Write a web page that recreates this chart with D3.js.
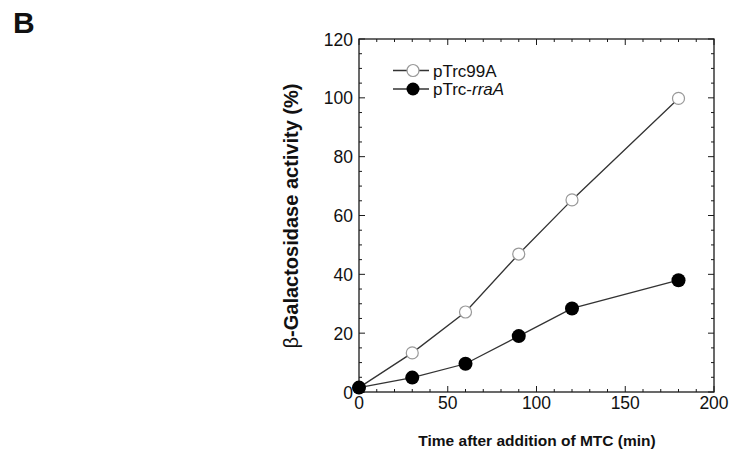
<!DOCTYPE html>
<html><head><meta charset="utf-8">
<script src="https://cdn.jsdelivr.net/npm/d3@7"></script>
<style>body{margin:0;background:#fff;} text{font-family:Arial,"Liberation Sans",Helvetica,sans-serif;}</style>
</head><body>
<svg id="c" width="729" height="454"></svg>
<script>
const times = [0, 30, 60, 90, 120, 180];
const pTrc99A = [1.5, 13.3, 27.2, 46.9, 65.3, 99.8];
const pTrcRraA = [1.5, 4.9, 9.6, 19.0, 28.4, 38.0];
const xTicks = [0, 50, 100, 150, 200];
const yTicks = [0, 20, 40, 60, 80, 100, 120];
const seriesNames = ["pTrc99A", "pTrc-rraA"];

const svg = d3.select("#c");
const L = 359, R = 714, T = 39, B = 392;
const x = d3.scaleLinear().domain([0, 200]).range([L, R]);
const y = d3.scaleLinear().domain([0, 120]).range([B, T]);
const axisColor = "#1a1a1a";

// frame
svg.append("rect").attr("x", L).attr("y", T).attr("width", R - L).attr("height", B - T)
  .attr("fill", "none").attr("stroke", axisColor).attr("stroke-width", 1.3);

const xMinor = d3.range(0, 201, 10);
const yMinor = d3.range(0, 121, 5);
const g = svg.append("g").attr("stroke", axisColor).attr("stroke-width", 1);
xMinor.forEach(v => {
  const len = v % 50 === 0 ? 6 : 3;
  g.append("line").attr("x1", x(v)).attr("x2", x(v)).attr("y1", B).attr("y2", B - len);
  g.append("line").attr("x1", x(v)).attr("x2", x(v)).attr("y1", T).attr("y2", T + len);
});
yMinor.forEach(v => {
  const len = v % 20 === 0 ? 6 : 3;
  g.append("line").attr("y1", y(v)).attr("y2", y(v)).attr("x1", L).attr("x2", L + len);
  g.append("line").attr("y1", y(v)).attr("y2", y(v)).attr("x1", R).attr("x2", R - len);
});

// tick labels
svg.selectAll(".xl").data(xTicks).enter().append("text")
  .attr("x", d => x(d)).attr("y", B + 17).attr("text-anchor", "middle")
  .attr("font-size", 17.5).attr("fill", "#111").text(d => d);
svg.selectAll(".yl").data(yTicks).enter().append("text")
  .attr("x", L - 6).attr("y", d => y(d) + 6.5).attr("text-anchor", "end")
  .attr("font-size", 17.5).attr("fill", "#111").text(d => d);

// axis titles
svg.append("text").attr("x", 537).attr("y", 446).attr("text-anchor", "middle")
  .attr("font-size", 15.5).attr("font-weight", "bold").attr("fill", "#111")
  .text("Time after addition of MTC (min)");
const yt = svg.append("text").attr("transform", "translate(298,216) rotate(-90)")
  .attr("text-anchor", "middle").attr("font-size", 20).attr("fill", "#111");
yt.append("tspan").attr("font-weight", "normal").text("β");
yt.append("tspan").attr("font-weight", "bold").text("-Galactosidase activity (%)");

// panel label
svg.append("text").attr("x", 13).attr("y", 33).attr("font-size", 30).attr("font-weight", "bold")
  .attr("fill", "#111").text("B");

// lines
const line = d3.line().x((d, i) => x(times[i])).y(d => y(d));
svg.append("path").datum(pTrc99A).attr("d", line).attr("fill", "none").attr("stroke", "#333").attr("stroke-width", 1.3);
svg.append("path").datum(pTrcRraA).attr("d", line).attr("fill", "none").attr("stroke", "#333").attr("stroke-width", 1.3);

svg.selectAll(".o").data(pTrc99A).enter().append("circle")
  .attr("cx", (d, i) => x(times[i])).attr("cy", d => y(d)).attr("r", 6)
  .attr("fill", "#fff").attr("stroke", "#999").attr("stroke-width", 1.2);
svg.selectAll(".f").data(pTrcRraA).enter().append("circle")
  .attr("cx", (d, i) => x(times[i])).attr("cy", d => y(d)).attr("r", 7)
  .attr("fill", "#000");

// legend
const legY = [70.5, 89];
legY.forEach((ly, i) => {
  svg.append("line").attr("x1", 393).attr("x2", 429).attr("y1", ly).attr("y2", ly)
    .attr("stroke", "#333").attr("stroke-width", 1.3);
  if (i === 0) {
    svg.append("circle").attr("cx", 413).attr("cy", ly).attr("r", 6)
      .attr("fill", "#fff").attr("stroke", "#999").attr("stroke-width", 1.2);
  } else {
    svg.append("circle").attr("cx", 413).attr("cy", ly).attr("r", 6.5).attr("fill", "#000");
  }
  const t = svg.append("text").attr("x", 433).attr("y", ly + 6).attr("font-size", 17).attr("fill", "#111");
  if (i === 0) t.text(seriesNames[0]);
  else { t.append("tspan").text("pTrc-"); t.append("tspan").attr("font-style", "italic").text("rraA"); }
});
</script>
</body></html>
